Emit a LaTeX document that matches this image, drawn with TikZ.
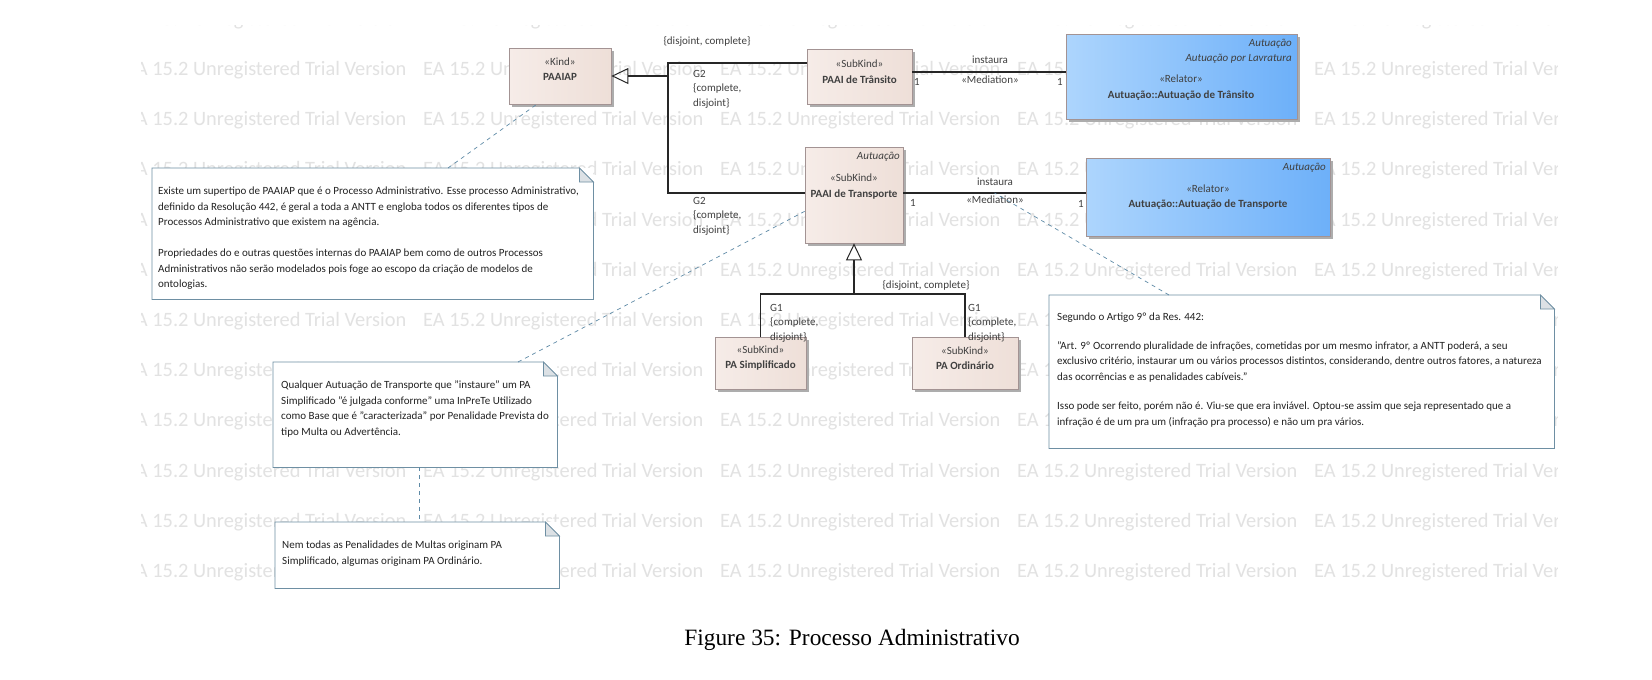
\documentclass[tikz,border=0pt]{standalone}
\usepackage{fontspec}
\setmainfont{Carlito}
\newfontfamily\capfont{Liberation Serif}
\usetikzlibrary{arrows.meta,calc,shadows}
\definecolor{classfill}{HTML}{F6ECE8}
\definecolor{classfillR}{HTML}{EEDFD8}
\definecolor{boxborder}{HTML}{A39393}
\definecolor{relL}{HTML}{ADD5FD}
\definecolor{relR}{HTML}{6DB0F9}
\definecolor{noteborder}{HTML}{6E8FA3}
\definecolor{notefold}{HTML}{DCE1E5}
\definecolor{linkblue}{HTML}{5E8AA6}
\definecolor{wmgray}{HTML}{E2E2E2}
\definecolor{stgray}{HTML}{404040}
\definecolor{txt}{HTML}{222222}
\newcommand\drawnote[1]{%
  \draw[noteborder, line width=0.8pt] (#1.north west) -- ($(#1.north east)+(-14,0)$) -- ($(#1.north east)+(0,14)$) -- (#1.south east) -- (#1.south west) -- cycle;
  \filldraw[fill=notefold, draw=noteborder, line width=0.8pt] ($(#1.north east)+(-14,0)$) -- ($(#1.north east)+(-14,14)$) -- ($(#1.north east)+(0,14)$) -- cycle;
}
\begin{document}
\begin{tikzpicture}[x=1pt,y=-1pt,
  cls/.style={draw=boxborder, line width=0.7pt, left color=classfill, right color=classfillR, inner sep=0pt,
    general shadow={fill=black!32, shadow xshift=3pt, shadow yshift=-3pt}},
  rel/.style={draw=boxborder, line width=0.7pt, left color=relL, right color=relR, inner sep=0pt,
    general shadow={fill=black!32, shadow xshift=3pt, shadow yshift=-3pt}},
  lbl/.style={font=\fontsize{11}{15.5}\selectfont, text=stgray, inner sep=0pt, align=center},
  glbl/.style={font=\fontsize{11}{14.5}\selectfont, text=stgray, inner sep=0pt, align=left, anchor=north west},
  ital/.style={font=\fontsize{11}{15.5}\selectfont\itshape, text=stgray, inner sep=0pt, anchor=east},
  conn/.style={line width=1.1pt, draw=black!85},
  gen/.style={conn, -{Triangle[open, length=17pt, width=16pt, line width=1pt]}},
  link/.style={draw=linkblue, dash pattern=on 4pt off 4pt, line width=0.7pt},
  notebg/.style={fill=white, inner sep=0pt, draw=none, anchor=north west},
  notetxt/.style={font=\fontsize{11}{15.5}\selectfont, text=txt, inner sep=0pt, align=left, anchor=north west},
  wm/.style={font=\fontsize{20.4}{24}\selectfont, text=wmgray, inner sep=0pt, anchor=base west}
]
\useasboundingbox[fill=white] (0,0) rectangle (1652,680);

% watermark
\begin{scope}
\clip (141,25) rectangle (1557,595);
\foreach \r in {-1,...,10} {
  \foreach \c in {0,...,4} {
    \node[wm] (wm-\r-\c) at ({126+297*\c},{75.5+50.2*\r}) {EA 15.2 Unregistered Trial Version};
  }
}
\end{scope}

% notes
\node[notebg, minimum width=441pt, minimum height=131pt] (note1) at (152,168) {};
\node[notebg, minimum width=284pt, minimum height=105pt] (note2) at (273,362) {};
\node[notebg, minimum width=284pt, minimum height=66pt] (note3) at (275,522) {};
\node[notebg, minimum width=505pt, minimum height=153pt] (note4) at (1049,295) {};
\drawnote{note1}
\drawnote{note2}
\drawnote{note3}
\drawnote{note4}

% classes
\node[cls, minimum width=102pt, minimum height=56pt] (paaiap) at (560,76) {};
\node[cls, minimum width=105pt, minimum height=55pt] (transito) at (859.5,76.5) {};
\node[rel, minimum width=231pt, minimum height=85pt] (reltransito) at (1181.5,76.5) {};
\node[cls, minimum width=98pt, minimum height=96pt] (transporte) at (854,195) {};
\node[rel, minimum width=244pt, minimum height=78pt] (reltransporte) at (1208,197) {};
\node[cls, minimum width=91pt, minimum height=52pt] (pasimp) at (760.5,363) {};
\node[cls, minimum width=106pt, minimum height=52pt] (paord) at (965,363) {};

% class texts
\node[lbl] (paaiap-t) at (560,69) {«Kind»\\\textbf{PAAIAP}};
\node[lbl] (transito-t) at (859.5,71.5) {«SubKind»\\\textbf{PAAI de Trânsito}};
\node[ital] (reltransito-p1) at (1292,44) {Autuação};
\node[ital] (reltransito-p2) at (1292,59) {Autuação por Lavratura};
\node[lbl] (reltransito-t) at (1181,87.5) {«Relator»\\\textbf{Autuação::Autuação de Trânsito}};
\node[ital] (transporte-p) at (900,157) {Autuação};
\node[lbl] (transporte-t) at (854,186.5) {«SubKind»\\\textbf{PAAI de Transporte}};
\node[ital] (reltransporte-p) at (1326,168) {Autuação};
\node[lbl] (reltransporte-t) at (1208,197) {«Relator»\\\textbf{Autuação::Autuação de Transporte}};
\node[lbl] (pasimp-t) at (760.5,358) {«SubKind»\\\textbf{PA Simplificado}};
\node[lbl] (paord-t) at (965,358) {«SubKind»\\\textbf{PA Ordinário}};

% generalization G2
\coordinate (g2) at (668,76);
\draw[conn] ([yshift=13.5pt]transito.west) -| (g2);
\draw[conn] ([yshift=2pt]transporte.west) -| (g2);
\draw[gen] (g2) -- (paaiap.east);
% generalization G1
\coordinate (g1) at (transporte.south |- 0,294);
\draw[conn] (pasimp.north) |- (g1);
\draw[conn] (paord.north) |- (g1);
\draw[gen] (g1) -- (transporte.south);

% mediations
\coordinate (m1) at ([yshift=4.5pt]transito.east);
\draw[conn] (m1) -- (m1 -| reltransito.west);
\coordinate (m2) at ([yshift=2pt]transporte.east);
\draw[conn] (m2) -- (m2 -| reltransporte.west);
\coordinate (m2mid) at ($(m2)!0.5!(m2 -| reltransporte.west)$);

% labels
\node[lbl] (gs2) at (707,41) {\{disjoint, complete\}};
\node[glbl] (g2a) at (693,70) {G2\\\{complete,\\disjoint\}};
\node[glbl] (g2b) at (693,197) {G2\\\{complete,\\disjoint\}};
\node[lbl] (gs1) at (926,285) {\{disjoint, complete\}};
\node[glbl] (g1a) at (770,304) {G1\\\{complete,\\disjoint\}};
\node[glbl] (g1b) at (968,304) {G1\\\{complete,\\disjoint\}};
\node[lbl] (i1) at (990,60) {instaura};
\node[lbl] (s1) at (990,80) {«Mediation»};
\node[lbl] (c1a) at (917,82) {1};
\node[lbl] (c1b) at (1060,82) {1};
\node[lbl] (i2) at (995,182) {instaura};
\node[lbl] (s2) at (995,200) {«Mediation»};
\node[lbl] (c2a) at (913,203) {1};
\node[lbl] (c2b) at (1081,204) {1};

% note links
\draw[link] ($(note1.north west)+(296,0)$) -- ($(paaiap.south west)+(28,0)$);
\draw[link] ($(note2.north west)+(245,0)$) -- ($(transporte.south west)+(0,-32)$);
\draw[link] ($(note2.south west)+(146,0)$) -- ($(note3.north west)+(144,0)$);
\draw[link] ($(note4.north west)+(120,0)$) -- (m2mid);

% note texts
\node[notetxt] (note1-t) at (158,187) {Existe um supertipo de PAAIAP que é o Processo Administrativo. Esse processo Administrativo,\\definido da Resolução 442, é geral a toda a ANTT e engloba todos os diferentes tipos de\\Processos Administrativo que existem na agência.\\[15.5pt]Propriedades do e outras questões internas do PAAIAP bem como de outros Processos\\Administrativos não serão modelados pois foge ao escopo da criação de modelos de\\ontologias.};
\node[notetxt] (note2-t) at (281,381) {Qualquer Autuação de Transporte que "instaure" um PA\\Simplificado "é julgada conforme" uma InPreTe Utilizado\\como Base que é "caracterizada" por Penalidade Prevista do\\tipo Multa ou Advertência.};
\node[notetxt] (note3-t) at (282,541) {Nem todas as Penalidades de Multas originam PA\\Simplificado, algumas originam PA Ordinário.};
\node[notetxt] (note4-t) at (1057,313) {Segundo o Artigo 9º da Res. 442:\\[13pt]"Art. 9º Ocorrendo pluralidade de infrações, cometidas por um mesmo infrator, a ANTT poderá, a seu\\exclusivo critério, instaurar um ou vários processos distintos, considerando, dentre outros fatores, a natureza\\das ocorrências e as penalidades cabíveis."\\[14pt]Isso pode ser feito, porém não é. Viu-se que era inviável. Optou-se assim que seja representado que a\\infração é de um pra um (infração pra processo) e não um pra vários.};

% caption
\node[font=\capfont\fontsize{23.4}{27}\selectfont, inner sep=0pt] (cap) at (852,640) {Figure 35: Processo Administrativo};
\end{tikzpicture}
\end{document}
